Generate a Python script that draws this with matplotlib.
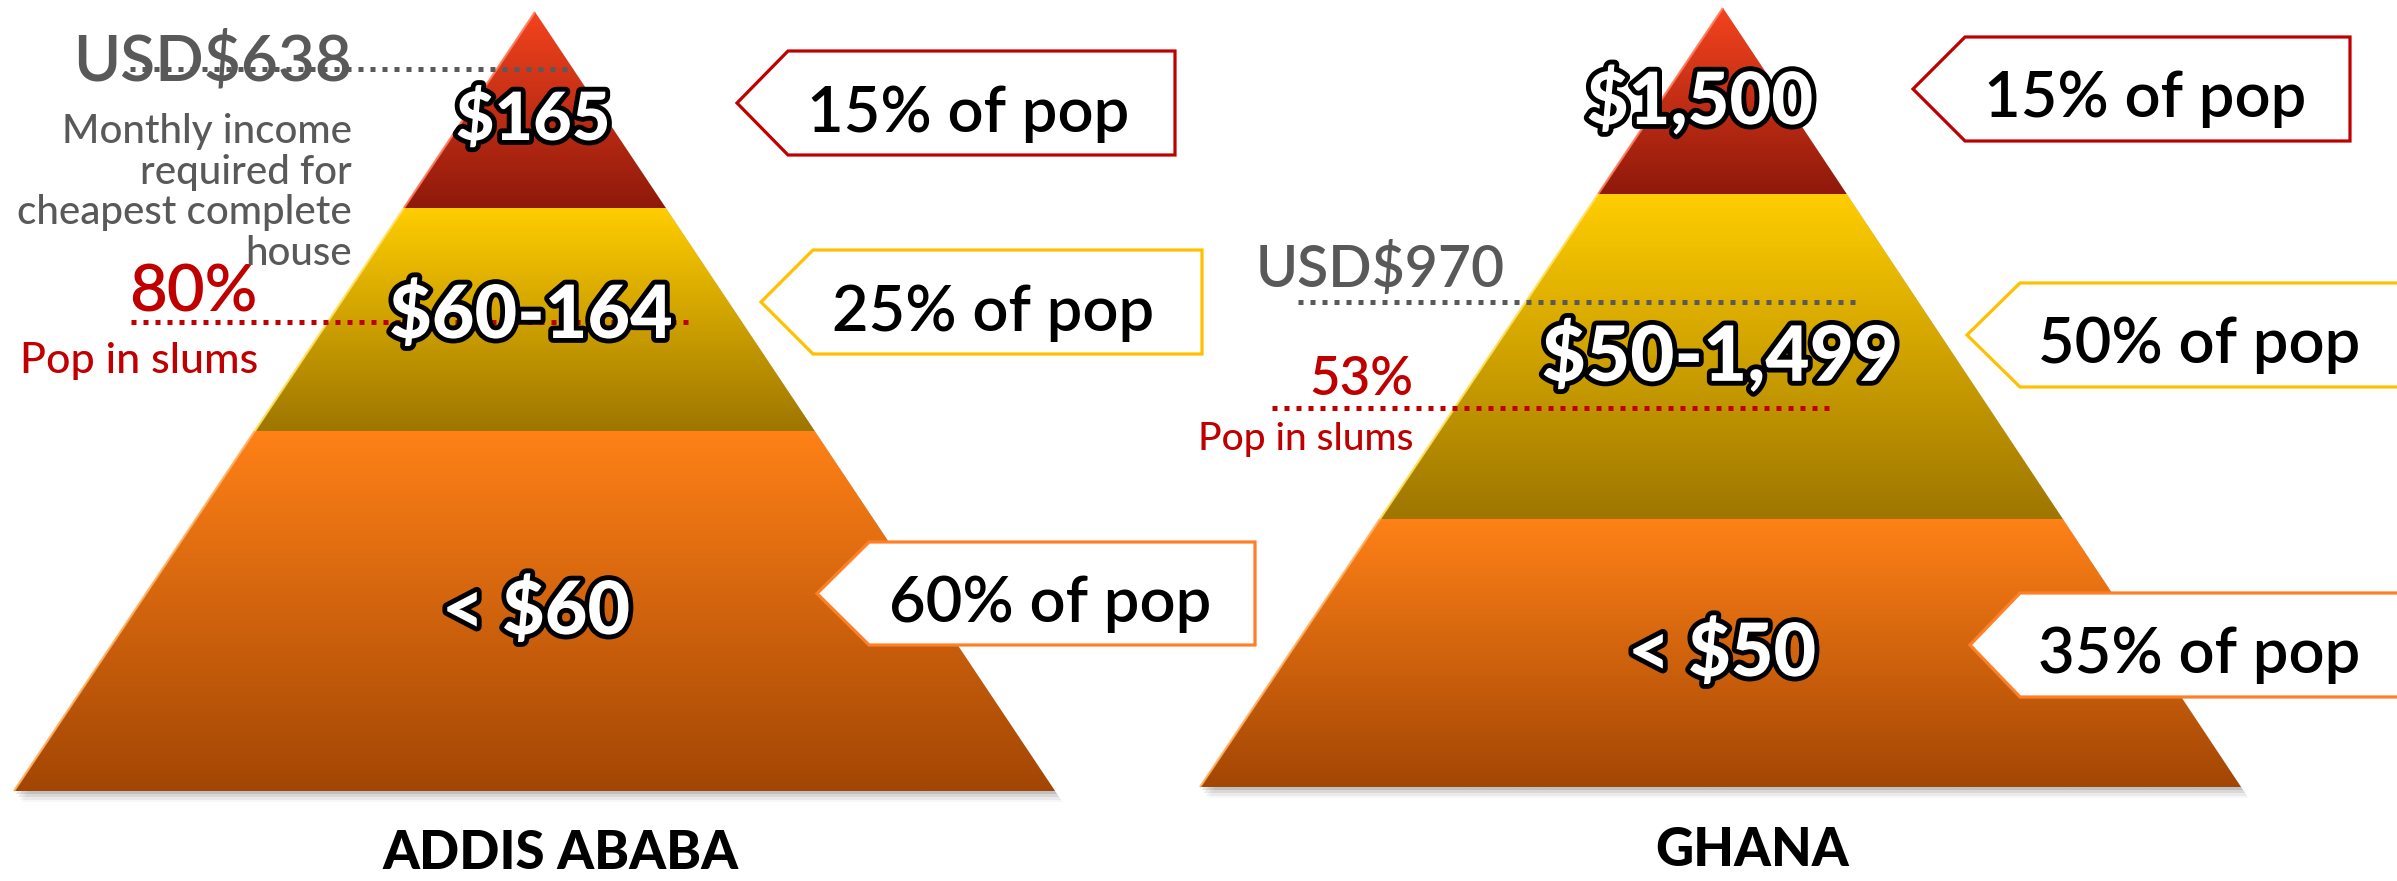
import numpy as np
import matplotlib
matplotlib.use("Agg")
import matplotlib.pyplot as plt
from matplotlib.patches import Polygon
import matplotlib.patheffects as pe
from matplotlib.colors import to_rgb

plt.rcParams['font.family'] = ['Lato', 'DejaVu Sans']

# ---------------- data ----------------
cities = ['ADDIS ABABA', 'GHANA']
addis_income_bands = ['$165', '$60-164', '< $60']
addis_pop_share = [15, 25, 60]
ghana_income_bands = ['$1,500', '$50-1,499', '< $50']
ghana_pop_share = [15, 50, 35]
house_income_required = ['USD$638', 'USD$970']
slum_share = [80, 53]
house_note_lines = ['Monthly income', 'required for', 'cheapest complete', 'house']
slum_note = 'Pop in slums'

# ---------------- style / layout ----------------
W, H = 2397, 881
GREY = '#595959'
RED = '#C00000'
band_grad = [('#F4431E', '#8F190B'), ('#FFCD00', '#9E7600'), ('#FF8117', '#A34604')]
band_edge_hi = ['#FF7A5A', '#FFE15A', '#FFB060']
box_edge = ['#C00000', '#FFC000', '#FF7F27']

layouts = [
    dict(apex=(535, 12), base_y=791, base_l=14, base_r=1055, cuts=[208, 431],
         label_xy=[(533, 121), (531, 316), (536, 612)],
         label_size=[48, 53, 53],
         boxes=[(737, 788, 51, 155, 1175), (761, 813, 250, 354, 1202), (817, 869, 542, 645, 1255)],
         box_text=[(968, 132), (993, 331), (1050, 622)],
         title_xy=(561, 869),
         usd=dict(x=352, y=80, size=46), usd_line=(130, 571, 69),
         pct=dict(x=258, y=312, size=47), pct_line=(131, 691, 322),
         slum=dict(x=258, y=373, size=31),
         note=dict(x=352, y0=143, dy=40.7, size=29)),
    dict(apex=(1723, 8), base_y=787, base_l=1200, base_r=2241, cuts=[194, 519],
         label_xy=[(1700, 102), (1720, 357), (1722, 654)],
         label_size=[52, 55, 53],
         boxes=[(1913, 1965, 37, 141, 2350), (1967, 2020, 283, 387, 2420), (1970, 2020, 593, 697, 2420)],
         box_text=[(2145, 117), (2199, 363), (2199, 673)],
         title_xy=(1752, 866),
         usd=dict(x=1505, y=287, size=41), usd_line=(1298, 1858, 302),
         pct=dict(x=1413, y=395, size=38), pct_line=(1272, 1831, 408),
         slum=dict(x=1413, y=450, size=28),
         note=None),
]
band_labels = [addis_income_bands, ghana_income_bands]
pop_shares = [addis_pop_share, ghana_pop_share]

fig = plt.figure(figsize=(W / 100, H / 100), dpi=100)
ax = fig.add_axes([0, 0, 1, 1])
ax.axis('off')

grad = np.linspace(0, 1, 256)[:, None, None]

for i, L in enumerate(layouts):
    axp, ayp = L['apex']
    by, bl, br = L['base_y'], L['base_l'], L['base_r']

    def xl(y):
        return axp + (bl - axp) * (y - ayp) / (by - ayp)

    def xr(y):
        return axp + (br - axp) * (y - ayp) / (by - ayp)

    # soft drop shadow
    tri = np.array([(axp, ayp), (br, by), (bl, by)], float)
    for dx, dy, a in [(2, 3, 0.10), (4, 6, 0.08), (6, 9, 0.05), (8, 11, 0.03)]:
        ax.add_patch(Polygon(tri + [dx, dy], closed=True, facecolor='black',
                             edgecolor='none', alpha=a, zorder=1))

    ys = [ayp] + L['cuts'] + [by]
    for b in range(3):
        y0, y1 = ys[b], ys[b + 1]
        if b == 0:
            verts = [(axp, y0), (xr(y1), y1), (xl(y1), y1)]
        else:
            verts = [(xl(y0), y0), (xr(y0), y0), (xr(y1), y1), (xl(y1), y1)]
        poly = Polygon(verts, closed=True, facecolor='none', edgecolor='none', zorder=2)
        ax.add_patch(poly)
        c0 = np.array(to_rgb(band_grad[b][0]))
        c1 = np.array(to_rgb(band_grad[b][1]))
        img = c0 * (1 - grad) + c1 * grad
        im = ax.imshow(img, extent=(xl(y1), xr(y1), y1, y0), origin='upper',
                       aspect='auto', interpolation='bilinear', zorder=2)
        im.set_clip_path(poly)
        # light left edge highlight
        ax.plot([xl(y0), xl(y1)], [y0, y1],
                color=band_edge_hi[b], lw=1.6, alpha=0.9, zorder=3,
                solid_capstyle='butt')

        # income label inside band
        lx, lyy = L['label_xy'][b]
        ax.text(lx, lyy, band_labels[i][b], ha='center', va='center',
                fontsize=L['label_size'][b], fontweight='black', color='white',
                zorder=8,
                path_effects=[pe.withStroke(linewidth=7, foreground='black')])

        # callout box
        tip, body, top, bot, right = L['boxes'][b]
        mid = (top + bot) / 2
        ax.add_patch(Polygon([(tip, mid), (body, top), (right, top), (right, bot), (body, bot)],
                             closed=True, facecolor='white', edgecolor=box_edge[b],
                             lw=2.3, joinstyle='miter', zorder=5))
        tx, ty = L['box_text'][b]
        ax.text(tx, ty, f'{pop_shares[i][b]}% of pop', ha='center', va='baseline',
                fontsize=45.5, fontweight='semibold', color='black', zorder=6)

    # city title
    ax.text(*L['title_xy'], cities[i], ha='center', va='baseline', fontsize=38,
            fontweight='black', color='black', zorder=6)

    # house-income annotation
    u = L['usd']
    ax.text(u['x'], u['y'], house_income_required[i], ha='right', va='baseline',
            fontsize=u['size'], fontweight='semibold', color=GREY, zorder=6)
    x0, x1, yl = L['usd_line']
    ax.plot([x0, x1], [yl, yl], color=GREY, lw=3.6, linestyle=(0, (1, 1.4)),
            dash_capstyle='butt', zorder=7)

    # slum annotation
    p = L['pct']
    ax.text(p['x'], p['y'], f'{slum_share[i]}%', ha='right', va='baseline',
            fontsize=p['size'], fontweight='semibold', color=RED, zorder=6)
    x0, x1, yl = L['pct_line']
    ax.plot([x0, x1], [yl, yl], color=RED, lw=3.6, linestyle=(0, (1, 1.4)),
            dash_capstyle='butt', zorder=7)
    s = L['slum']
    ax.text(s['x'], s['y'], slum_note, ha='right', va='baseline',
            fontsize=s['size'], fontweight='medium', color=RED, zorder=6)

    n = L['note']
    if n is not None:
        for k, line in enumerate(house_note_lines):
            ax.text(n['x'], n['y0'] + k * n['dy'], line, ha='right', va='baseline',
                    fontsize=n['size'], fontweight='medium', color=GREY, zorder=6)

ax.set_xlim(0, W)
ax.set_ylim(H, 0)
fig.savefig('out.png', dpi=100, facecolor='white')
